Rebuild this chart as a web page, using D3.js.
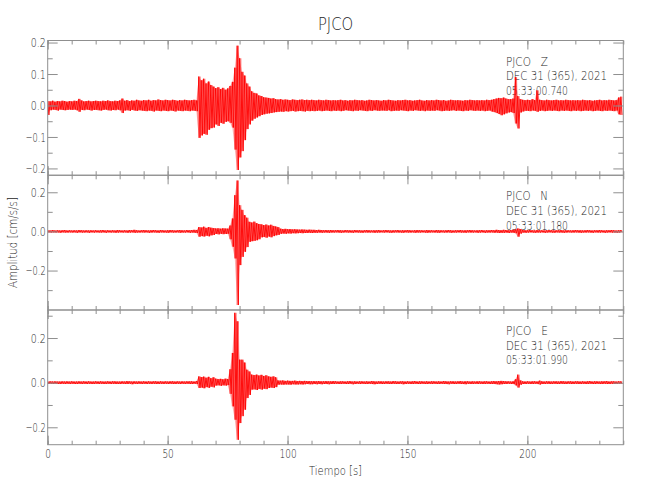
<!DOCTYPE html>
<html>
<head>
<meta charset="utf-8">
<script src="https://cdn.jsdelivr.net/npm/d3@7"></script>
<style>
  body { margin: 0; background: #fff; }
  text { font-family: "DejaVu Sans", sans-serif; font-weight: 200; fill: #262626; }
  .axis path, .axis line { stroke: #8f8f8f; }
</style>
</head>
<body>
<script>
// envelope of each trace, one value per second (0..239 s), in 0.001 cm/s/s
var zMax = [14,13,15,12,14,13,15,14,12,14, 13,15,14,21,16,13,14,15,13,14,
  15,14,13,15,14,16,14,13,15,14, 16,22,15,17,14,16,15,18,16,15,
  17,16,18,15,17,16,19,17,16,18, 17,16,18,17,15,17,16,18,17,16,
  17,18,16,92,80,85,70,76,65,60, 55,58,52,56,50,54,62,75,120,190,
  150,107,95,70,60,45,40,38,32,30, 26,25,24,22,23,20,19,20,18,19,
  18,17,19,18,17,18,19,17,18,17, 18,17,16,18,17,16,18,17,16,17,
  16,17,18,16,17,15,17,16,18,17, 16,17,15,16,18,17,16,17,16,15,
  17,16,18,17,16,15,17,16,17,18, 16,17,15,16,17,18,16,15,17,16,
  17,16,18,17,16,17,15,16,18,17, 16,17,16,15,17,16,18,17,16,17,
  16,17,16,18,17,18,20,22,24,23, 25,22,20,20,22,90,30,20,18,17,
  18,17,20,17,48,18,17,16,18,17, 16,17,18,16,17,16,18,17,16,17,
  16,17,16,18,17,16,17,15,16,17, 18,16,17,16,18,17,16,17,25,28];
var zMin = [30,15,13,14,16,13,14,15,14,13, 14,13,15,20,14,15,13,14,16,14,
  14,15,16,14,13,15,16,14,15,13, 15,24,16,15,17,14,16,17,15,16,
  17,18,16,17,19,16,17,18,16,17, 18,16,17,19,16,17,18,16,17,18,
  16,17,18,103,95,90,93,77,72,70, 60,65,55,58,52,50,55,70,140,205,
  165,145,110,75,60,48,42,38,34,30, 28,26,25,24,22,21,20,19,20,18,
  19,18,17,19,18,17,18,19,17,18, 17,18,17,16,18,17,16,17,18,16,
  17,16,18,17,15,16,17,18,16,17, 15,16,17,18,16,17,15,16,17,16,
  16,17,15,18,17,16,17,15,16,17, 18,16,17,15,16,17,16,18,16,17,
  16,17,15,16,18,17,16,17,16,15, 17,16,17,18,16,17,15,16,17,16,
  17,16,18,17,16,19,21,24,27,31, 28,25,22,21,24,57,73,22,19,17,
  17,18,16,17,20,17,16,18,17,16, 17,16,17,18,16,17,16,17,18,16,
  17,16,18,17,16,17,16,18,17,16, 17,18,16,17,16,17,18,16,28,30];

var nMax = [6,5,7,5,6,5,6,7,5,6, 5,6,5,7,6,5,6,5,6,5,
  6,5,6,7,5,6,5,6,5,7, 6,5,6,5,7,6,8,6,5,6,
  7,6,5,6,7,6,5,7,6,5, 6,7,6,5,6,7,6,5,7,6,
  7,8,7,22,20,24,18,22,19,17, 15,16,14,16,15,14,30,66,185,260,
  134,110,83,70,49,45,50,42,38,36, 32,35,30,34,28,25,22,14,12,13,
  11,12,10,11,10,9,10,9,8,9, 8,8,7,8,7,6,7,6,7,6,
  6,7,6,5,7,6,6,5,7,6, 6,5,6,7,6,5,6,6,7,5,
  6,7,6,5,6,6,7,5,6,6, 7,6,5,6,7,6,6,5,7,6,
  6,5,7,6,6,5,6,7,6,5, 6,6,7,5,6,6,7,6,5,6,
  6,7,5,6,6,7,6,8,7,6, 8,7,6,7,8,10,15,12,7,6,
  6,7,6,5,7,6,6,5,6,7, 6,5,6,6,7,5,6,6,5,6,
  7,6,6,5,6,7,6,5,6,6, 7,6,5,6,6,7,6,5,6,7];
var nMin = [5,6,5,6,5,7,5,6,6,5, 6,5,7,5,6,6,5,7,5,6,
  5,6,6,5,7,5,6,5,7,6, 5,6,5,7,6,5,7,6,6,5,
  6,5,7,6,5,6,7,5,6,6, 7,5,6,6,5,7,6,6,5,7,
  6,7,8,27,24,26,22,25,20,18, 13,15,12,14,13,12,40,78,138,376,
  172,130,104,80,53,50,48,45,40,30, 28,32,26,30,24,20,18,12,11,12,
  10,11,9,10,9,8,9,8,8,7, 8,7,7,6,7,6,6,7,6,6,
  5,6,7,6,5,6,6,7,5,6, 6,7,5,6,6,5,7,6,6,5,
  6,5,6,7,6,5,6,6,7,5, 6,6,5,7,6,6,5,6,7,6,
  5,6,6,7,5,6,6,5,7,6, 6,5,6,6,7,5,6,6,5,7,
  6,5,7,6,6,5,7,6,8,7, 7,6,8,6,7,9,27,11,6,7,
  6,5,6,7,6,6,5,7,6,5, 6,7,5,6,6,7,6,5,6,6,
  5,6,7,6,6,5,6,7,5,6, 6,5,7,6,5,6,6,7,6,5];

var eMax = [5,6,5,6,5,5,6,5,6,5, 6,5,5,6,5,6,5,6,5,5,
  6,5,6,5,5,6,5,6,6,5, 5,6,5,7,6,5,6,5,6,5,
  6,5,6,5,6,6,5,6,5,6, 5,6,6,5,6,5,6,5,6,6,
  6,5,7,28,25,27,22,26,20,24, 18,16,17,15,18,16,60,133,313,275,
  103,103,90,58,50,36,34,36,32,35, 30,33,28,26,28,24,10,9,10,8,
  9,8,8,9,7,8,7,8,7,7, 6,7,6,7,6,6,7,6,6,7,
  6,5,6,6,5,6,7,5,6,5, 6,6,5,6,5,7,6,5,6,6,
  5,6,6,5,7,6,5,6,6,5, 6,5,6,7,5,6,6,5,6,5,
  6,6,5,6,5,7,6,5,6,6, 5,6,7,5,6,6,5,6,5,6,
  6,5,6,6,5,6,7,6,7,8, 7,6,6,5,6,15,36,10,6,5,
  6,5,6,6,5,9,6,5,6,6, 5,6,6,5,7,6,5,6,6,5,
  6,6,5,6,5,6,7,5,6,6, 5,6,6,7,5,6,6,5,6,6];
var eMin = [6,5,6,5,6,6,5,6,5,6, 5,6,6,5,6,5,6,5,6,6,
  5,6,5,6,6,5,6,5,6,6, 6,5,6,6,5,7,5,6,5,6,
  5,6,5,6,5,6,6,5,6,5, 6,5,6,6,5,6,5,6,5,6,
  6,5,6,24,22,25,20,23,18,21, 13,12,14,12,13,11,50,106,166,256,
  181,150,121,69,55,31,30,33,28,31, 27,29,24,22,24,20,9,8,9,8,
  8,9,7,8,8,7,8,7,6,7, 7,6,7,6,7,6,6,7,6,6,
  5,6,6,5,6,6,5,7,6,5, 6,5,6,6,5,6,7,6,5,6,
  6,5,6,6,5,6,6,5,7,6, 5,6,6,5,6,6,5,6,6,5,
  6,5,6,6,5,6,6,7,5,6, 6,5,6,6,7,5,6,6,5,6,
  5,6,6,5,6,6,6,7,8,7, 6,6,5,6,6,12,22,9,6,6,
  5,6,6,5,6,8,6,6,5,6, 6,5,6,6,5,6,6,5,6,6,
  5,6,6,5,6,6,5,6,6,5, 6,6,5,6,6,5,6,6,5,6];

var station = "PJCO";
var components = ["Z", "N", "E"];
var startTimes = ["05:33:00.740", "05:33:01.180", "05:33:01.990"];
var dateLabel = "DEC 31 (365), 2021";
var yDomains = [[-0.2215, 0.2065], [-0.4015, 0.2867], [-0.278, 0.3256]];
var yMajorTicks = [[-0.2, -0.1, 0, 0.1, 0.2], [-0.2, 0, 0.2], [-0.2, 0, 0.2]];
var yMinorTicks = [[-0.15, -0.05, 0.05, 0.15], [-0.3, -0.1, 0.1], [-0.1, 0.1, 0.3]];
var xMajorTicks = [0, 50, 100, 150, 200];
var xMinorTicks = d3.range(0, 241, 10);
var traces = [[zMax, zMin], [nMax, nMin], [eMax, eMin]];

var W = 650, H = 500;
var left = 47.7, right = 623.3;
var panelTops = [40.5, 175.3, 310];
var panelH = 134.7;

var svg = d3.select("body").append("svg")
  .attr("width", W).attr("height", H);

var x = d3.scaleLinear().domain([0, 240]).range([left, right]);

// squeeze text to the narrow width of the original plot font
function fit(sel, perChar) {
  sel.each(function () {
    var t = d3.select(this), s = t.text();
    if (s.length) t.attr("textLength", s.length * perChar).attr("lengthAdjust", "spacingAndGlyphs");
  });
}

svg.append("text")
  .attr("x", (left + right) / 2).attr("y", 30)
  .attr("text-anchor", "middle")
  .style("font-size", "18px")
  .text(station)
  .call(fit, 8.8);

components.forEach(function (comp, k) {
  var top = panelTops[k], bottom = top + panelH;
  var y = d3.scaleLinear().domain(yDomains[k]).range([bottom, top]);
  var hi = traces[k][0], lo = traces[k][1];

  // station label block (drawn first, the trace runs over it)
  var lab = svg.append("text").attr("x", 506).attr("y", top + 25)
    .style("font-size", "13px").style("white-space", "pre");
  lab.append("tspan").attr("x", 506).attr("dy", 0).text(station + "   " + comp)
    .attr("textLength", 42).attr("lengthAdjust", "spacingAndGlyphs");
  lab.append("tspan").attr("x", 506).attr("dy", 14.6).text(dateLabel)
    .attr("textLength", 101).attr("lengthAdjust", "spacingAndGlyphs");
  lab.append("tspan").attr("x", 506).attr("dy", 14.6).text(startTimes[k])
    .attr("textLength", 62).attr("lengthAdjust", "spacingAndGlyphs");

  var clipId = "clip" + k;
  svg.append("clipPath").attr("id", clipId)
    .append("rect").attr("x", left).attr("y", top - 8)
    .attr("width", right - left).attr("height", panelH + 16);

  var g = svg.append("g").attr("clip-path", "url(#" + clipId + ")");

  // light envelope underneath
  var area = d3.area()
    .x(function (d, i) { return x(i); })
    .y0(function (d, i) { return y(-lo[i] / 1000); })
    .y1(function (d, i) { return y(hi[i] / 1000); });
  g.append("path").datum(hi)
    .attr("d", area)
    .attr("fill", "#ff0000").attr("fill-opacity", 0.3);

  // two zigzags between the peaks give the dense look of the trace
  var ptsA = [], ptsB = [];
  hi.forEach(function (v, i) {
    ptsA.push([i, v / 1000]);
    ptsA.push([i + 0.5, -lo[i] / 1000]);
    ptsB.push([i, -lo[i] / 1000]);
    ptsB.push([i + 0.5, v / 1000]);
  });
  var line = d3.line().x(function (d) { return x(d[0]); }).y(function (d) { return y(d[1]); });
  g.append("path").datum(ptsB)
    .attr("d", line)
    .attr("fill", "none").attr("stroke", "#ff0000").attr("stroke-opacity", 0.55).attr("stroke-width", 0.7);
  g.append("path").datum(ptsA)
    .attr("d", line)
    .attr("fill", "none").attr("stroke", "#ff0000").attr("stroke-width", 0.9);

  // frame
  svg.append("rect").attr("x", left).attr("y", top)
    .attr("width", right - left).attr("height", panelH)
    .attr("fill", "none").attr("stroke", "#8f8f8f");

  var fmt = d3.format(".1f");
  svg.append("g").attr("class", "axis").attr("transform", "translate(" + left + ",0)")
    .call(d3.axisLeft(y).tickValues(yMajorTicks[k]).tickSize(-10).tickPadding(2).tickFormat(fmt))
    .call(function (a) {
      a.select(".domain").remove();
      a.selectAll("text").style("font-size", "13px").attr("fill", null).call(fit, 5);
    });
  svg.append("g").attr("class", "axis").attr("transform", "translate(" + left + ",0)")
    .call(d3.axisLeft(y).tickValues(yMinorTicks[k]).tickSize(-5).tickFormat(""))
    .call(function (a) { a.select(".domain").remove(); });
  svg.append("g").attr("class", "axis").attr("transform", "translate(" + right + ",0)")
    .call(d3.axisRight(y).tickValues(yMajorTicks[k]).tickSize(-10).tickFormat(""))
    .call(function (a) { a.select(".domain").remove(); });
  svg.append("g").attr("class", "axis").attr("transform", "translate(" + right + ",0)")
    .call(d3.axisRight(y).tickValues(yMinorTicks[k]).tickSize(-5).tickFormat(""))
    .call(function (a) { a.select(".domain").remove(); });

  svg.append("g").attr("class", "axis").attr("transform", "translate(0," + top + ")")
    .call(d3.axisTop(x).tickValues(xMinorTicks).tickSize(-4).tickFormat(""))
    .call(function (a) { a.select(".domain").remove(); });
  svg.append("g").attr("class", "axis").attr("transform", "translate(0," + top + ")")
    .call(d3.axisTop(x).tickValues(xMajorTicks).tickSize(-9).tickFormat(""))
    .call(function (a) { a.select(".domain").remove(); });
  svg.append("g").attr("class", "axis").attr("transform", "translate(0," + bottom + ")")
    .call(d3.axisBottom(x).tickValues(xMinorTicks).tickSize(-4).tickFormat(""))
    .call(function (a) { a.select(".domain").remove(); });
  svg.append("g").attr("class", "axis").attr("transform", "translate(0," + bottom + ")")
    .call(d3.axisBottom(x).tickValues(xMajorTicks).tickSize(-9).tickPadding(4)
      .tickFormat(k === 2 ? d3.format("d") : ""))
    .call(function (a) {
      a.select(".domain").remove();
      a.selectAll("text").style("font-size", "13px").attr("fill", null).call(fit, 5.7);
    });
});

svg.append("text")
  .attr("x", (left + right) / 2).attr("y", 475)
  .attr("text-anchor", "middle")
  .style("font-size", "13px")
  .text("Tiempo [s]")
  .call(fit, 5.3);

svg.append("text")
  .attr("transform", "translate(17," + (panelTops[0] + 1.5 * panelH) + ") rotate(-90)")
  .attr("text-anchor", "middle")
  .style("font-size", "13px")
  .text("Amplitud [cm/s/s]")
  .call(fit, 5.35);
</script>
</body>
</html>
